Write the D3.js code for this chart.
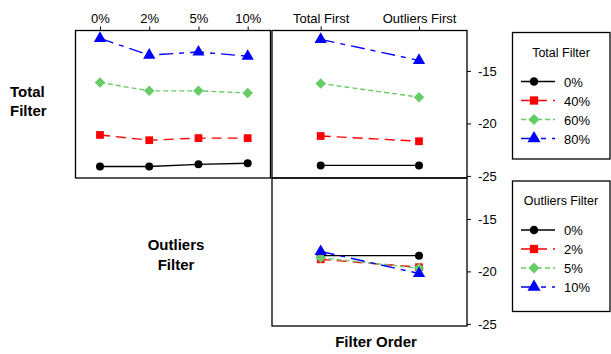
<html>
<head>
  <title>Filter interaction plot</title>
  <script src="https://d3js.org/d3.v7.min.js"></script>
  <style>
    body { margin: 0; background: white; }
    * { font-family: 'Liberation Sans', Arial, sans-serif; }
    .lab { font-weight: bold; font-size: 15px; }
    .tick text { font-size: 13px; }
  </style>
</head>
<body>
  <svg width="611" height="354"></svg>
  <script>
    // levels
    var totalLevels = ["0%", "40%", "60%", "80%"];
    var outlierLevels = ["0%", "2%", "5%", "10%"];
    var orderLevels = ["Total First", "Outliers First"];

    // mean value per total filter level (rows) across outlier filter levels (cols)
    var totalByOutlier = [
      [-24.1, -24.1, -23.9, -23.8],
      [-21.1, -21.6, -21.4, -21.4],
      [-16.1, -16.9, -16.9, -17.1],
      [-11.9, -13.5, -13.2, -13.6]
    ];
    // total filter level across filter order
    var totalByOrder = [
      [-24.0, -24.0],
      [-21.2, -21.7],
      [-16.2, -17.5],
      [-12.0, -14.0]
    ];
    // outlier filter level across filter order
    var outlierByOrder = [
      [-18.5, -18.5],
      [-18.85, -19.6],
      [-18.7, -19.7],
      [-18.1, -20.2]
    ];
    var yTicks = [-15, -20, -25];

    var colors = ["#000000", "#ff0000", "#66cc66", "#0000ff"];
    var dashes = [null, "10,6", "5,3", "14,6,5,6"];
    var shapes = [d3.symbolCircle, d3.symbolSquare, d3.symbolSquare, d3.symbolTriangle];
    var rotate = [0, 0, 45, 0];
    var sizes = [50, 60, 55, 65];

    var svg = d3.select("svg");

    var yTop = d3.scaleLinear().domain([-25.2, -11.2]).range([178, 31]);
    var yBot = d3.scaleLinear().domain([-25.2, -11.2]).range([326, 179]);
    var xOut = d3.scalePoint().domain(outlierLevels).range([100, 247.7]);
    var xOrd = d3.scalePoint().domain(orderLevels).range([320.7, 419]);

    // panel frames
    function frame(x0, y0, x1, y1) {
      svg.append("rect").attr("x", x0).attr("y", y0)
        .attr("width", x1 - x0).attr("height", y1 - y0)
        .attr("fill", "none").attr("stroke", "black").attr("stroke-width", 1.3);
    }
    frame(75.5, 30.5, 270.5, 178);
    frame(272, 30.5, 467, 178);
    frame(272, 178, 467, 326);

    // top axes
    var ax1 = svg.append("g").attr("transform", "translate(0,30.5)")
      .call(d3.axisTop(xOut).tickSize(4).tickPadding(4));
    var ax2 = svg.append("g").attr("transform", "translate(0,30.5)")
      .call(d3.axisTop(xOrd).tickSize(4).tickPadding(4));
    [ax1, ax2].forEach(function (a) { a.select(".domain").remove(); });

    // right axes
    var r1 = svg.append("g").attr("transform", "translate(467,0)")
      .call(d3.axisRight(yTop).tickValues(yTicks).tickSize(4).tickPadding(7).tickFormat(function (d) { return String(d); }));
    var r2 = svg.append("g").attr("transform", "translate(467,0)")
      .call(d3.axisRight(yBot).tickValues(yTicks).tickSize(4).tickPadding(7).tickFormat(function (d) { return String(d); }));
    [r1, r2].forEach(function (a) { a.select(".domain").remove(); });
    svg.selectAll(".tick text").attr("fill", "black");
    svg.selectAll(".tick line").attr("stroke", "black");

    function marker(g, i, x, y, k) {
      g.append("path")
        .attr("transform", "translate(" + x + "," + y + ") rotate(" + rotate[i] + ")")
        .attr("d", d3.symbol().type(shapes[i]).size(sizes[i] * k))
        .attr("fill", colors[i]);
    }

    function drawSeries(data, x, y, cats) {
      data.forEach(function (vals, i) {
        var pts = vals.map(function (v, j) { return [x(cats[j]), y(v)]; });
        svg.append("path").attr("d", d3.line()(pts))
          .attr("fill", "none").attr("stroke", colors[i]).attr("stroke-width", 1.4)
          .attr("stroke-dasharray", dashes[i]);
        pts.forEach(function (p) { marker(svg, i, p[0], p[1], 1); });
      });
    }
    drawSeries(totalByOutlier, xOut, yTop, outlierLevels);
    drawSeries(totalByOrder, xOrd, yTop, orderLevels);
    drawSeries(outlierByOrder, xOrd, yBot, orderLevels);

    // legends
    function legend(title, labels, y0, y1) {
      svg.append("rect").attr("x", 512.5).attr("y", y0).attr("width", 97.5).attr("height", y1 - y0)
        .attr("fill", "white").attr("stroke", "black").attr("stroke-width", 1.3);
      svg.append("text").attr("x", 561).attr("y", y0 + 24).attr("text-anchor", "middle")
        .attr("font-size", 12.5).text(title);
      labels.forEach(function (l, i) {
        var yy = y0 + 49 + i * 19;
        svg.append("line").attr("x1", 521).attr("x2", 555).attr("y1", yy).attr("y2", yy)
          .attr("stroke", colors[i]).attr("stroke-width", 1.4).attr("stroke-dasharray", dashes[i]);
        marker(svg, i, 534, yy, 1.15);
        svg.append("text").attr("x", 564).attr("y", yy + 5).attr("font-size", 13).text(l);
      });
    }
    legend("Total Filter", totalLevels, 32.5, 159);
    legend("Outliers Filter", outlierLevels, 181, 311.5);

    // factor labels
    svg.append("text").attr("class", "lab").attr("x", 10).attr("y", 97).text("Total");
    svg.append("text").attr("class", "lab").attr("x", 10).attr("y", 116).text("Filter");
    svg.append("text").attr("class", "lab").attr("x", 176).attr("y", 250).attr("text-anchor", "middle").text("Outliers");
    svg.append("text").attr("class", "lab").attr("x", 176).attr("y", 270).attr("text-anchor", "middle").text("Filter");
    svg.append("text").attr("class", "lab").attr("x", 376).attr("y", 347).attr("text-anchor", "middle").text("Filter Order");
  </script>
</body>
</html>
